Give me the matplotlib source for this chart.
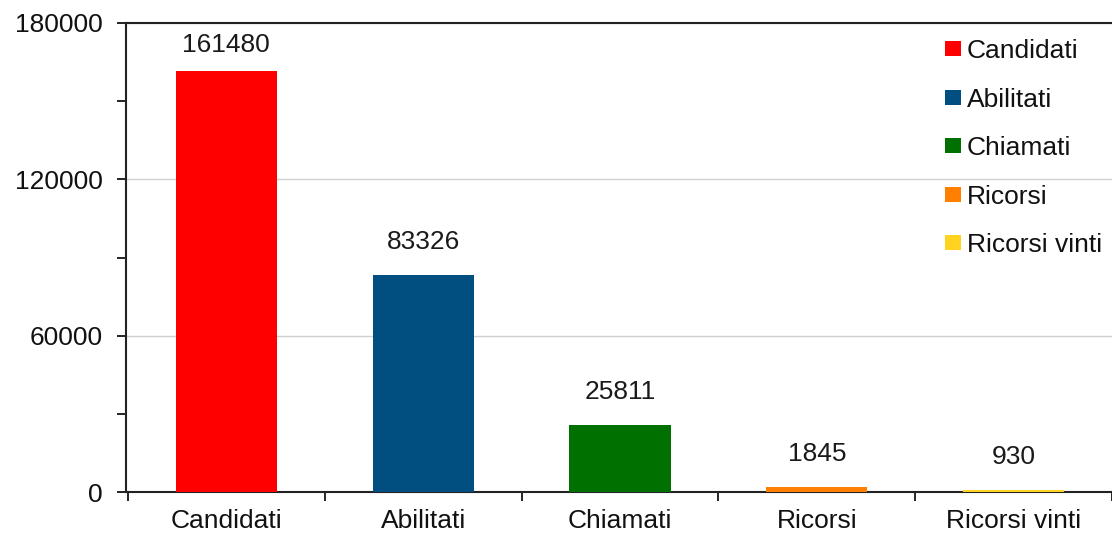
import matplotlib
matplotlib.use("Agg")
import matplotlib.pyplot as plt
from matplotlib.ticker import FixedLocator
from matplotlib.patches import Patch

categories = ["Candidati", "Abilitati", "Chiamati", "Ricorsi", "Ricorsi vinti"]
values = [161480, 83326, 25811, 1845, 930]
colors = ["#ff0000", "#004f80", "#007000", "#ff8000", "#ffd320"]
y_ticks = [0, 60000, 120000, 180000]

plt.rcParams['font.family'] = ['Liberation Sans', 'DejaVu Sans']
FS = 19
YMAX = 180000

fig = plt.figure(figsize=(11.12, 5.35), dpi=100)
ax = fig.add_axes([126/1112, 43/535, 1 - 126/1112, 469/535])

x = list(range(len(categories)))
ax.bar(x, values, width=0.515, color=colors, zorder=3)
for xi, v in zip(x, values):
    if v > 0.85 * YMAX:
        # label would leave the plot area: keep it just under the top line
        ax.annotate(str(v), (xi, YMAX), xytext=(0, -7), textcoords="offset points",
                    ha="center", va="top", fontsize=FS, color="#1a1a1a")
    else:
        ax.annotate(str(v), (xi, v), xytext=(0, 15), textcoords="offset points",
                    ha="center", va="bottom", fontsize=FS, color="#1a1a1a")

ax.set_xlim(-0.51, 4.465)
ax.set_ylim(0, YMAX)
ax.set_yticks(y_ticks)
ax.set_yticklabels([str(t) for t in y_ticks])
ax.yaxis.set_minor_locator(FixedLocator([30000, 90000, 150000]))
ax.set_xticks([i - 0.5 for i in range(len(categories) + 1)])
ax.set_xticklabels([])
ax.set_xticks(x, minor=True)
ax.set_xticklabels(categories, minor=True)
ax.tick_params(axis='x', which='major', direction='out', length=6.5, width=1.2)
ax.tick_params(axis='x', which='minor', length=0, pad=12.5, labelsize=FS, labelcolor="#111111")
ax.tick_params(axis='y', which='both', direction='out', length=6.5, width=1.2,
               labelsize=FS, pad=10, labelcolor="#111111")

ax.grid(axis='y', which='major', color='#d0d0d0', linewidth=1, zorder=0)
for s in ['left', 'bottom', 'top']:
    ax.spines[s].set_linewidth(1.5)
    ax.spines[s].set_color('#222222')
ax.spines['right'].set_visible(False)

handles = [Patch(facecolor=c, edgecolor='none') for c in colors]
leg = fig.legend(handles, categories, loc='upper left',
                 bbox_to_anchor=(945/1112, 1 - 39/535), frameon=False,
                 fontsize=FS, handlelength=0.62, handleheight=0.5,
                 handletextpad=0.2, labelspacing=0.93, borderpad=0, borderaxespad=0)
for t in leg.get_texts():
    t.set_color("#111111")

fig.savefig("out.png", dpi=100)
